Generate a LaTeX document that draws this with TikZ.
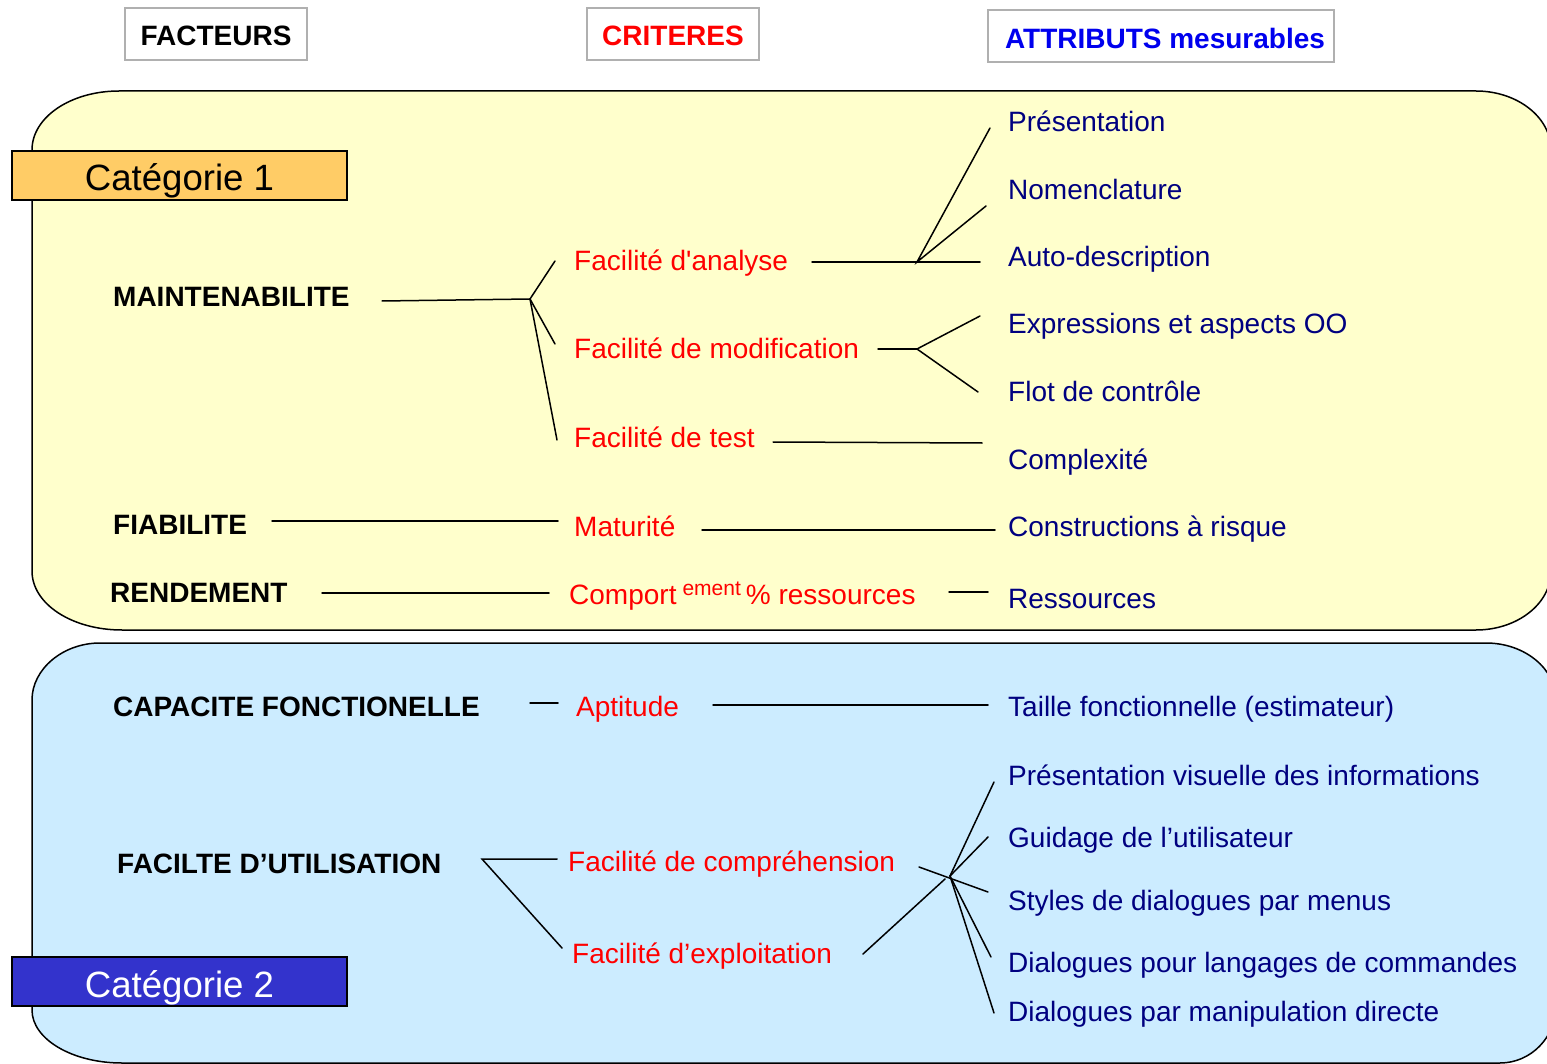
\documentclass[tikz,border=0pt]{standalone}
\usepackage{fontspec}
\setmainfont{Liberation Sans}
\definecolor{ybg}{HTML}{FFFFCC}
\definecolor{bbg}{HTML}{CCECFF}
\definecolor{catorange}{HTML}{FFCC66}
\definecolor{catblue}{HTML}{3333CC}
\definecolor{navy}{HTML}{000080}
\definecolor{hdrgray}{HTML}{B0B0B0}
\definecolor{hdrblue}{HTML}{0000EE}
\begin{document}
\begin{tikzpicture}[x=1pt,y=-1pt,
  fac/.style={font=\fontsize{28}{32}\selectfont\bfseries, text=black, anchor=base west, inner sep=0pt},
  crit/.style={font=\fontsize{28}{32}\selectfont, text=red, anchor=base west, inner sep=0pt},
  attr/.style={font=\fontsize{28}{32}\selectfont, text=navy, anchor=base west, inner sep=0pt},
  hdr/.style={draw=hdrgray, line width=2pt, fill=white, font=\fontsize{28}{32}\selectfont\bfseries,
    minimum height=52pt, text height=24pt, text depth=0pt, inner xsep=0pt},
  catbox/.style={draw=black, line width=1.5pt, minimum width=335pt, minimum height=49pt,
    font=\fontsize{36.6}{40}\selectfont, text height=31pt, text depth=0pt, inner xsep=0pt},
  link/.style={line width=1.5pt, draw=black, line cap=round}]
\useasboundingbox (0,0) rectangle (1547,1064);
\fill[white] (0,0) rectangle (1547,1064);

% category frames
\draw[fill=ybg, line width=1.5pt]
  (32,150) .. controls (32,117) and (71,91) .. (119,91) -- (1476,91)
  .. controls (1517,91) and (1551,117) .. (1551,150) -- (1551,571)
  .. controls (1551,604) and (1517,630) .. (1476,630) -- (122,630)
  .. controls (72,630) and (32,604) .. (32,571) -- cycle;
\draw[fill=bbg, line width=1.5pt]
  (32,700) .. controls (32,669) and (63,643) .. (100,643) -- (1486,643)
  .. controls (1525,643) and (1556,669) .. (1556,700) -- (1556,1006)
  .. controls (1556,1037) and (1531,1063) .. (1500,1063) -- (122,1063)
  .. controls (72,1063) and (32,1039) .. (32,1010) -- cycle;

% headers
\node[hdr, minimum width=182pt] (hFact) at (216,34) {FACTEURS};
\node[hdr, minimum width=172pt, text=red] (hCrit) at (673,34) {CRITERES};
\node[hdr, minimum width=346pt, text=hdrblue] (hAttr) at (1161,36.5) {\hspace{8pt}ATTRIBUTS mesurables};

% category labels
\node[catbox, fill=catorange, text=black] (cat1) at (179.5,175.5) {Catégorie 1};
\node[catbox, fill=catblue, text=white] (cat2) at (179.5,981.5) {Catégorie 2};

% factors
\node[fac] (fMaint) at (113,307) {MAINTENABILITE};
\node[fac] (fFiab) at (113,534) {FIABILITE};
\node[fac] (fRend) at (110,602) {RENDEMENT};
\node[fac] (fCapa) at (113,716) {CAPACITE FONCTIONELLE};
\node[fac] (fUtil) at (117,873) {FACILTE D’UTILISATION};

% criteria
\node[crit] (cAna) at (574,271) {Facilité d\textquotesingle analyse};
\node[crit] (cMod) at (574,359) {Facilité de modification};
\node[crit] (cTest) at (574,447) {Facilité de test};
\node[crit] (cMat) at (574,536) {Maturité};
\node[crit] (cComp) at (569,604) {Comport\hspace{6pt}\raisebox{9pt}{\fontsize{21}{21}\selectfont ement}\hspace{5pt}\% ressources};
\node[crit] (cApt) at (576,716) {Aptitude};
\node[crit] (cCompr) at (568,871) {Facilité de compréhension};
\node[crit] (cExpl) at (572,963) {Facilité d’exploitation};

% attributes
\node[attr] (aPres) at (1008,132) {Présentation};
\node[attr] (aNom) at (1008,200) {Nomenclature};
\node[attr] (aAuto) at (1008,267) {Auto-description};
\node[attr] (aExpr) at (1008,334) {Expressions et aspects OO};
\node[attr] (aFlot) at (1008,401) {Flot de contrôle};
\node[attr] (aCplx) at (1008,469) {Complexité};
\node[attr] (aCons) at (1008,536) {Constructions à risque};
\node[attr] (aRess) at (1008,608) {Ressources};
\node[attr] (aTaille) at (1008,716) {Taille fonctionnelle (estimateur)};
\node[attr] (aVis) at (1008,785) {Présentation visuelle des informations};
\node[attr] (aGuid) at (1008,847) {Guidage de l’utilisateur};
\node[attr] (aMenu) at (1008,910) {Styles de dialogues par menus};
\node[attr] (aCmd) at (1008,972) {Dialogues pour langages de commandes};
\node[attr] (aManip) at (1008,1021) {Dialogues par manipulation directe};

% connector points
\coordinate (pMaint) at (382,301);
\coordinate (hMaint) at (530,299);
\coordinate (pMaintAna) at (555,261);
\coordinate (pMaintMod) at (555,344);
\coordinate (pMaintTest) at (557,440);
\coordinate (pAna) at (812,262);
\coordinate (hAna) at (917,262);
\coordinate (pAnaAuto) at (980,262);
\coordinate (pAnaPres) at (990,128);
\coordinate (pAnaNom) at (986,206);
\coordinate (pMod) at (878,349);
\coordinate (hMod) at (917,349);
\coordinate (pModExpr) at (980,316);
\coordinate (pModFlot) at (978,392);
\coordinate (pTest) at (773,442);
\coordinate (pTestCplx) at (982,443);
\coordinate (pFiab) at (272,521);
\coordinate (pFiabMat) at (558,521);
\coordinate (pMat) at (702,530);
\coordinate (pMatCons) at (995,530);
\coordinate (pRend) at (322,593);
\coordinate (pRendComp) at (549,593);
\coordinate (pComp) at (949,592);
\coordinate (pCompRess) at (988,592);
\coordinate (pCapa) at (530,703);
\coordinate (pCapaApt) at (558,703);
\coordinate (pApt) at (713,705);
\coordinate (pAptTaille) at (988,705);
\coordinate (hUtil) at (482,859);
\coordinate (pUtilCompr) at (557,859);
\coordinate (pUtilExpl) at (562,948);
\coordinate (pCompr) at (919,867);
\coordinate (pComprMenu) at (988,892);
\coordinate (pExpl) at (863,954);
\coordinate (hErgo) at (950,876);
\coordinate (pErgoExpl) at (945,879);
\coordinate (pErgoVis) at (994,782);
\coordinate (pErgoGuid) at (988,837);
\coordinate (pErgoCmd) at (991,957);
\coordinate (pErgoManip) at (994,1013);

% connectors
\draw[link] (pMaint) -- (hMaint);
\draw[link] (pMaintAna) -- (hMaint) -- (pMaintMod);
\draw[link] (hMaint) -- (pMaintTest);
\draw[link] (pAna) -- (pAnaAuto);
\draw[link] (pAnaPres) -- (hAna) -- (pAnaNom);
\draw[link] (pMod) -- (hMod);
\draw[link] (pModExpr) -- (hMod) -- (pModFlot);
\draw[link] (pTest) -- (pTestCplx);
\draw[link] (pFiab) -- (pFiabMat);
\draw[link] (pMat) -- (pMatCons);
\draw[link] (pRend) -- (pRendComp);
\draw[link] (pComp) -- (pCompRess);
\draw[link] (pCapa) -- (pCapaApt);
\draw[link] (pApt) -- (pAptTaille);
\draw[link] (pUtilCompr) -- (hUtil) -- (pUtilExpl);
\draw[link] (pCompr) -- (pComprMenu);
\draw[link] (pExpl) -- (pErgoExpl);
\draw[link] (pErgoVis) -- (hErgo) -- (pErgoManip);
\draw[link] (pErgoGuid) -- (hErgo) -- (pErgoCmd);
\end{tikzpicture}
\end{document}
